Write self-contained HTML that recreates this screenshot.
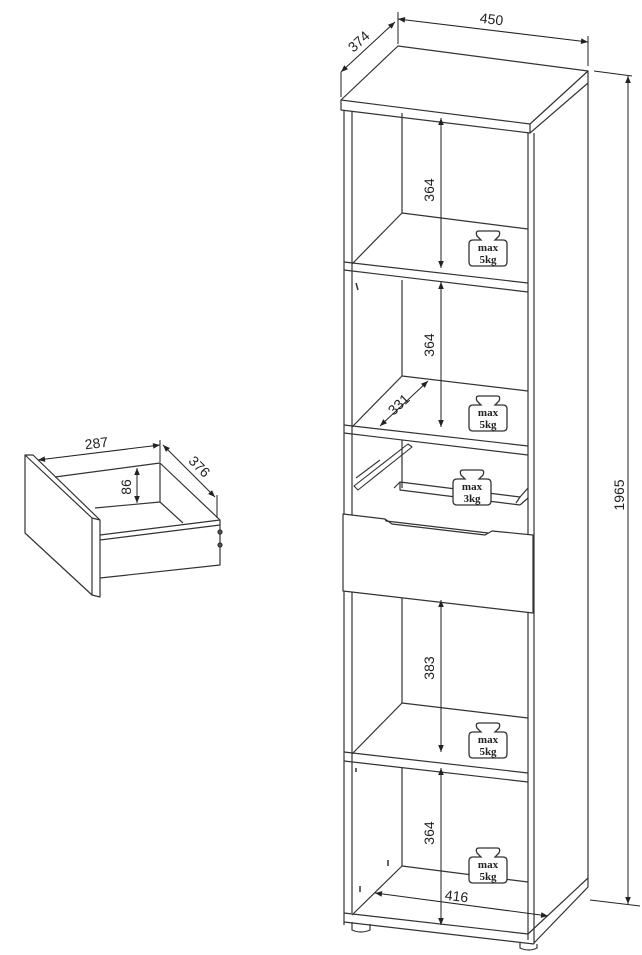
<!DOCTYPE html>
<html><head><meta charset="utf-8"><style>
html,body{margin:0;padding:0;background:#fff}
svg{display:block}
text{font-family:"Liberation Sans",sans-serif;fill:#222}
.w text{font-family:"Liberation Serif",serif;font-weight:bold;font-size:11px;text-anchor:middle}
</style></head><body>
<svg width="642" height="955" viewBox="0 0 642 955" xmlns="http://www.w3.org/2000/svg">
<defs>
<marker id="a" viewBox="0 0 10 10" refX="10" refY="5" markerWidth="9" markerHeight="7" orient="auto-start-reverse" markerUnits="userSpaceOnUse"><path d="M0,1 L10,5 L0,9 z" fill="#222"/></marker>
<path id="wp" d="M-9,-17 L9,-17 Q13,-17 11,-12 L7,-8 L15,-8 Q19,-8 19,-4 L19,14 Q19,18 15,18 L-15,18 Q-19,18 -19,14 L-19,-4 Q-19,-8 -15,-8 L-7,-8 L-11,-12 Q-13,-17 -9,-17 Z" fill="#fff" stroke="#333" stroke-width="1.3"/>
<g id="wt" class="w"><use href="#wp"/><text x="0" y="3">max</text><text x="0" y="15">5kg</text></g>
</defs>
<g fill="none" stroke="#333" stroke-width="1.2" stroke-linejoin="round">
<path d="M341,100 L398,46 L588,71 L530,124 Z" fill="#fff"/>
<path d="M341,100 L341,110 L530,133 L530,124 M530,133 L588,83 L588,71"/>
<path d="M344,110 L344,925 M352,111 L352,913"/>
<path d="M528,133 L528,940 M534,133 L534,944 M588,83 L588,887 L534,943"/>
<path d="M402,113 L402,213 M402,280 L402,376 M402,440 L402,488 M402,598 L402,703 M402,768 L402,866"/>
<path d="M344,262 L528,283 M344,270 L528,292 M352,264 L402,213 L528,229"/>
<path d="M344,425 L528,446 M344,433 L528,455 M352,427 L402,376 L528,391"/>
<path d="M344,752 L528,773 M344,761 L528,782 M352,754 L402,703 L528,718"/>
<path d="M344,913 L528,934 M344,922 L534,944 M352,915 L402,866 L528,882 M528,934 L588,878"/>
<path d="M352,922 L352,930 Q361,934 370,930 L370,924 M520,943 L520,948 Q529,952 537,948 L537,944"/>
<path d="M394,488 L400,482 L520,497 L516,503 M400,482 L400,490 L520,505"/>
<path d="M354,486 L408,444 L412,447 L358,490 Z M356,478 L380,460" stroke-width="1.1"/>
<path d="M520,497 L528,488 M520,505 L528,498"/>
<path d="M343,514 L385,519 L392,524 L485,535 L492,531 L533,535 L533,613 L343,591 Z" fill="#fff"/>
<path d="M385,519 L386,521 L488,533"/>
<path d="M356,283 L358,290 M356,768 L356,772 M388,860 L388,866 M360,886 L360,892" stroke-width="1.5"/>
</g>
<use href="#wt" x="488" y="248"/>
<use href="#wt" x="488" y="413"/>
<g transform="translate(472,487)" class="w"><use href="#wp"/><text x="0" y="3">max</text><text x="0" y="15">3kg</text></g>
<use href="#wt" x="488" y="740"/>
<use href="#wt" x="488" y="865"/>
<g stroke="#222" stroke-width="1" fill="none">
<path d="M398,12 L398,44 M588,36 L588,66 M341,72 L341,97 M594,71 L632,76 M590,900 L640,906"/>
<path d="M398,19 L588,42" marker-start="url(#a)" marker-end="url(#a)"/>
<path d="M341,72 L395,22" marker-start="url(#a)" marker-end="url(#a)"/>
<path d="M628,76 L628,904" marker-start="url(#a)" marker-end="url(#a)"/>
<path d="M441,118 L441,268" marker-start="url(#a)" marker-end="url(#a)"/>
<path d="M441,282 L441,427" marker-start="url(#a)" marker-end="url(#a)"/>
<path d="M441,600 L441,752" marker-start="url(#a)" marker-end="url(#a)"/>
<path d="M441,768 L441,925" marker-start="url(#a)" marker-end="url(#a)"/>
<path d="M375,893 L548,916" marker-start="url(#a)" marker-end="url(#a)"/>
<path d="M380,426 L428,381" marker-start="url(#a)" marker-end="url(#a)"/>
</g>
<g font-size="14">
<text x="491" y="24" text-anchor="middle" transform="rotate(7 491 24)">450</text>
<text x="362" y="45" text-anchor="middle" transform="rotate(-42 362 45)">374</text>
<text x="624" y="495" text-anchor="middle" transform="rotate(-90 624 495)">1965</text>
<text x="434" y="190" text-anchor="middle" transform="rotate(-90 434 190)">364</text>
<text x="434" y="345" text-anchor="middle" transform="rotate(-90 434 345)">364</text>
<text x="434" y="668" text-anchor="middle" transform="rotate(-90 434 668)">383</text>
<text x="434" y="833" text-anchor="middle" transform="rotate(-90 434 833)">364</text>
<text x="456" y="901" text-anchor="middle" transform="rotate(7 456 901)">416</text>
<text x="402" y="408" text-anchor="middle" transform="rotate(-43 402 408)">331</text>
</g>
<g fill="none" stroke="#333" stroke-width="1.2" stroke-linejoin="round">
<path d="M55,477 L160,463 L220,520 L100,535 M160,463 L160,502 L95,508 M160,502 L183,523 M100,540 L220,525 M220,520 L220,565 L100,578"/>
<path d="M25,455 L92,518 L92,595 L25,533 Z" fill="#fff"/>
<path d="M25,455 L33,455 L100,520 L92,518 M100,520 L100,597 L92,595"/>
<circle cx="220" cy="532" r="2" fill="#555"/><circle cx="220" cy="545" r="2" fill="#555"/>
</g>
<g stroke="#222" stroke-width="1" fill="none">
<path d="M38,460 L160,445" marker-start="url(#a)" marker-end="url(#a)"/>
<path d="M163,445 L215,497" marker-start="url(#a)" marker-end="url(#a)"/>
<path d="M137,468 L137,503" marker-start="url(#a)" marker-end="url(#a)"/>
<path d="M160,440 L160,462 M217,495 L217,518"/>
</g>
<g font-size="14">
<text x="97" y="448" text-anchor="middle" transform="rotate(-7 97 448)">287</text>
<text x="196" y="470" text-anchor="middle" transform="rotate(45 196 470)">376</text>
<text x="131" y="487" text-anchor="middle" transform="rotate(-90 131 487)">86</text>
</g>
</svg>
</body></html>
